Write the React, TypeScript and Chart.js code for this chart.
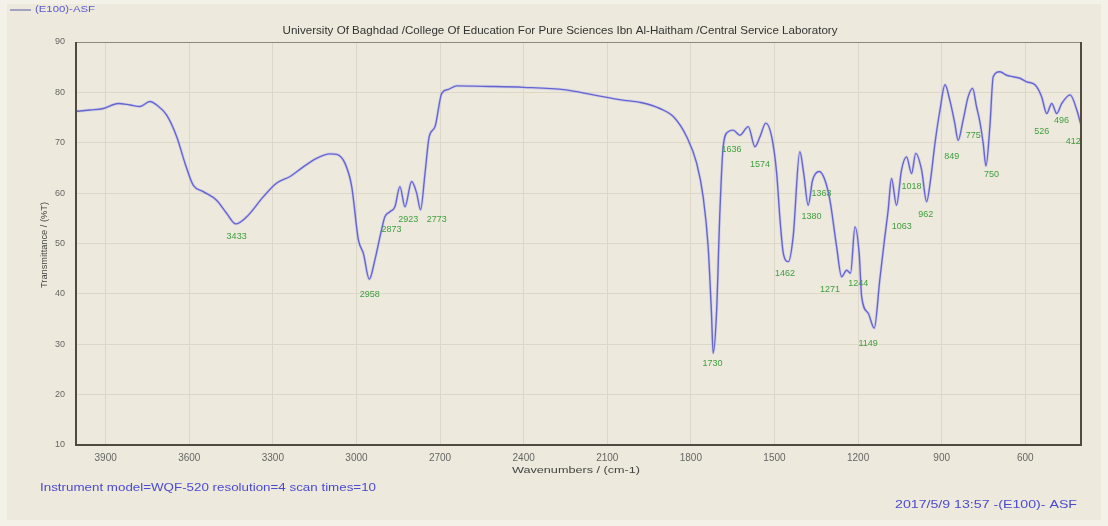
import React, { useEffect, useRef } from "react";
import { Chart, registerables } from "chart.js";

Chart.register(...registerables);

// Spectrum (wavenumber cm-1, transmittance %T)
const wavenumbers = [
  4010, 3956, 3908, 3855, 3813, 3777, 3741, 3717, 3681, 3645, 3615, 3586, 3550, 3502, 3466, 3433,
  3394, 3334, 3286, 3238, 3191, 3143, 3095, 3071, 3041, 3017, 2993, 2975, 2954, 2934, 2910, 2898,
  2880, 2862, 2844, 2826, 2802, 2784, 2770, 2754, 2739, 2718, 2694, 2670, 2640, 2550, 2400, 2250,
  2150, 2050, 1980, 1911, 1863, 1815, 1779, 1756, 1738, 1726, 1720, 1708, 1696, 1684, 1666, 1648,
  1624, 1594, 1570, 1552, 1531, 1510, 1492, 1480, 1468, 1450, 1433, 1409, 1395, 1379, 1363, 1339,
  1319, 1301, 1277, 1259, 1241, 1227, 1211, 1196, 1187, 1163, 1142, 1122, 1104, 1092, 1080, 1062,
  1044, 1026, 1008, 993, 972, 954, 940, 924, 906, 888, 871, 853, 841, 823, 805, 789,
  775, 763, 751, 741, 727, 715, 691, 667, 643, 619, 595, 565, 541, 523, 505, 487,
  469, 439, 415, 400,
];
const transmittance = [
  76.2, 76.5, 76.8, 77.8, 77.5, 77.2, 78.2, 77.5, 75.5, 71.2, 65.9, 61.6, 60.3, 58.6, 56.0, 53.9,
  55.3, 59.3, 62.0, 63.3, 65.2, 66.9, 67.8, 67.7, 65.9, 61.3, 50.7, 48.0, 42.9, 46.7, 52.7, 55.3,
  56.3, 57.3, 61.3, 57.3, 62.3, 60.0, 56.7, 63.9, 71.2, 73.2, 79.8, 80.6, 81.3, 81.2, 81.0, 80.5,
  79.5, 78.5, 78.0, 76.8, 75.2, 71.2, 65.9, 59.3, 49.4, 36.1, 28.2, 36.1, 56.0, 69.2, 72.2, 72.5,
  71.5, 73.2, 69.2, 71.2, 73.9, 71.2, 63.9, 54.7, 48.0, 46.4, 51.3, 68.2, 63.9, 57.6, 62.6, 64.3,
  62.6, 58.6, 49.4, 43.4, 44.7, 44.1, 53.3, 48.0, 39.4, 36.1, 33.2, 42.8, 51.3, 56.6, 62.9, 57.6,
  64.6, 67.2, 63.9, 67.9, 64.6, 58.3, 62.6, 69.9, 76.5, 81.5, 78.5, 73.9, 70.5, 74.5, 79.1, 80.8,
  77.2, 74.2, 69.9, 65.4, 73.2, 83.1, 84.1, 83.4, 83.1, 82.8, 82.1, 81.5, 79.1, 75.8, 77.8, 75.8,
  77.8, 79.5, 76.5, 73.5,
];

// Axis ticks
const xTickValues = [3900, 3600, 3300, 3000, 2700, 2400, 2100, 1800, 1500, 1200, 900, 600];
const yTickValues = [10, 20, 30, 40, 50, 60, 70, 80, 90];

// Peak labels: text and where each label sits (in data units)
const peakLabels = ["3433", "2958", "2873", "2923", "2773", "1730", "1636", "1574", "1462", "1380", "1363", "1271", "1244", "1149", "1063", "1018", "962", "849", "775", "750", "526", "496", "412"];
const peakLabelWn = [3430, 2952, 2874, 2814, 2712, 1722, 1654, 1552, 1462, 1367, 1331, 1301, 1199, 1164, 1043, 1008, 957, 864, 787, 721, 541, 470, 428];
const peakLabelT = [51.3, 39.8, 52.7, 54.7, 54.7, 26.2, 68.6, 65.6, 44.1, 55.3, 60.0, 40.8, 42.1, 30.2, 53.3, 61.3, 55.7, 67.2, 71.5, 63.6, 72.2, 74.5, 70.2];

const FONT = "'Liberation Sans', Arial, sans-serif";

function drawFit(
  ctx: CanvasRenderingContext2D,
  text: string,
  x: number,
  y: number,
  width: number,
  size: number,
  color: string,
  align: "left" | "center" | "right"
) {
  ctx.save();
  ctx.font = `${size}px ${FONT}`;
  ctx.fillStyle = color;
  ctx.textBaseline = "middle";
  ctx.textAlign = "left";
  const w = ctx.measureText(text).width;
  const s = width / w;
  let left = x;
  if (align === "center") left = x - width / 2;
  if (align === "right") left = x - width;
  ctx.translate(left, y);
  ctx.scale(s, 1);
  ctx.fillText(text, 0, 0);
  ctx.restore();
}

const backgroundPlugin = {
  id: "bgPlugin",
  beforeDraw(chart: any) {
    const ctx = chart.ctx as CanvasRenderingContext2D;
    ctx.save();
    ctx.fillStyle = "#f4f1e9";
    ctx.fillRect(0, 0, chart.width, chart.height);
    ctx.fillStyle = "#ede9dc";
    ctx.fillRect(7, 4, chart.width - 14, chart.height - 10);
    ctx.restore();
  },
};

const decorPlugin = {
  id: "decorPlugin",
  afterDatasetsDraw(chart: any) {
    const ctx = chart.ctx as CanvasRenderingContext2D;
    const { left, right, top, bottom } = chart.chartArea;
    const xs = chart.scales.x;
    const ys = chart.scales.y;

    // frame
    ctx.save();
    ctx.strokeStyle = "#8d887c";
    ctx.lineWidth = 1;
    ctx.beginPath();
    ctx.moveTo(left, top + 0.5);
    ctx.lineTo(right, top + 0.5);
    ctx.stroke();
    ctx.strokeStyle = "#514a3e";
    ctx.lineWidth = 2;
    ctx.beginPath();
    ctx.moveTo(left + 1, top);
    ctx.lineTo(left + 1, bottom);
    ctx.lineTo(right, bottom);
    ctx.lineTo(right, top);
    ctx.stroke();
    ctx.restore();

    // peak labels
    ctx.save();
    ctx.font = `9px ${FONT}`;
    ctx.fillStyle = "#3f9f3f";
    ctx.textAlign = "center";
    ctx.textBaseline = "middle";
    peakLabels.forEach((t, i) => {
      ctx.fillText(t, xs.getPixelForValue(peakLabelWn[i]), ys.getPixelForValue(peakLabelT[i]));
    });
    ctx.restore();
  },
  afterDraw(chart: any) {
    const ctx = chart.ctx as CanvasRenderingContext2D;
    // legend-like header
    ctx.save();
    ctx.strokeStyle = "#8a8ab8";
    ctx.lineWidth = 1.5;
    ctx.beginPath();
    ctx.moveTo(10, 10);
    ctx.lineTo(31, 10);
    ctx.stroke();
    ctx.restore();
    drawFit(ctx, "(E100)-ASF", 35, 10, 60, 9, "#5a5ad0", "left");
    drawFit(
      ctx,
      "University Of Baghdad /College Of Education For Pure Sciences Ibn Al-Haitham /Central Service Laboratory",
      560, 31, 555, 10.5, "#333333", "center"
    );
    // y title
    ctx.save();
    ctx.translate(45, 245);
    ctx.rotate(-Math.PI / 2);
    drawFit(ctx, "Transmittance / (%T)", 0, 0, 86, 9, "#444444", "center");
    ctx.restore();
    drawFit(ctx, "Wavenumbers / (cm-1)", 576, 470, 128, 9.5, "#444444", "center");
    drawFit(ctx, "Instrument model=WQF-520 resolution=4 scan times=10", 40, 488, 336, 11, "#4b4bd0", "left");
    drawFit(ctx, "2017/5/9 13:57 -(E100)- ASF", 1077, 505, 182, 11, "#4b4bd0", "right");
  },
};

export default function App() {
  const canvasRef = useRef<HTMLCanvasElement | null>(null);

  useEffect(() => {
    const canvas = canvasRef.current;
    if (!canvas) return;
    const points = wavenumbers.map((w, i) => ({ x: w, y: transmittance[i] }));
    const chart = new Chart(canvas, {
      type: "line",
      data: {
        datasets: [
          {
            data: points,
            borderColor: "rgba(170,170,240,0.35)",
            borderWidth: 3,
            pointRadius: 0,
            cubicInterpolationMode: "monotone",
          },
          {
            data: points,
            borderColor: "#4141c0",
            borderWidth: 1.4,
            pointRadius: 0,
            cubicInterpolationMode: "monotone",
          },
        ],
      },
      options: {
        responsive: false,
        animation: false,
        events: [],
        layout: { padding: { left: 0, right: 27, top: 42, bottom: 0 } },
        plugins: {
          legend: { display: false },
          tooltip: { enabled: false },
          title: { display: false },
        },
        scales: {
          x: {
            type: "linear",
            reverse: true,
            min: 400,
            max: 4010,
            afterBuildTicks: (s: any) => {
              s.ticks = xTickValues.map((v) => ({ value: v }));
            },
            afterFit: (s: any) => {
              s.height = 81;
            },
            grid: { color: "#dcd7c6", drawTicks: false, lineWidth: 1 },
            border: { display: false },
            ticks: {
              padding: 7,
              color: "#666666",
              font: { family: FONT, size: 10 },
              maxRotation: 0,
              autoSkip: false,
              callback: (v: any) => String(v),
            },
          },
          y: {
            type: "linear",
            min: 10,
            max: 90,
            afterBuildTicks: (s: any) => {
              s.ticks = yTickValues.map((v) => ({ value: v }));
            },
            afterFit: (s: any) => {
              s.width = 75;
            },
            grid: { color: "#dcd7c6", drawTicks: false, lineWidth: 1 },
            border: { display: false },
            ticks: {
              padding: 10,
              color: "#666666",
              font: { family: FONT, size: 9 },
              autoSkip: false,
            },
          },
        },
      },
      plugins: [backgroundPlugin, decorPlugin],
    } as any);
    return () => chart.destroy();
  }, []);

  return (
    <div style={{ position: "fixed", left: 0, top: 0, width: 1108, height: 526 }}>
      <canvas ref={canvasRef} width={1108} height={526} style={{ display: "block", width: 1108, height: 526 }} />
    </div>
  );
}
